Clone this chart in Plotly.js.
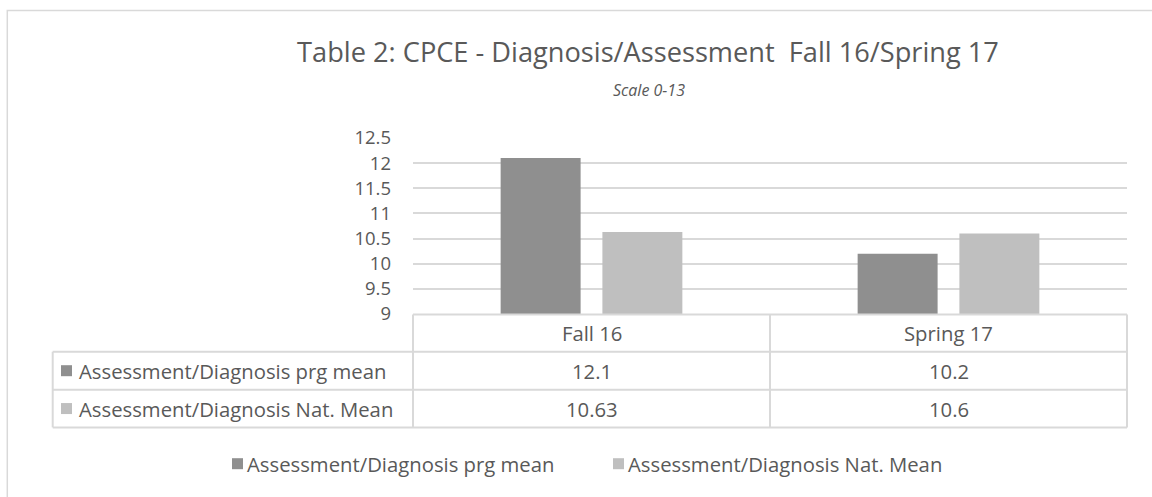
<!DOCTYPE html>
<html>
<head>
<meta charset="utf-8">
<script src="https://cdn.plot.ly/plotly-3.0.1.min.js"></script>
<style>
  html, body { margin: 0; padding: 0; background: #ffffff; }
  #chart { width: 1152px; height: 497px; }
</style>
</head>
<body>
<div id="chart"></div>
<script>
// ---- Data ----
const categories = ["Fall 16", "Spring 17"];
const seriesNames = ["Assessment/Diagnosis prg mean", "Assessment/Diagnosis Nat. Mean"];
const prgMean = [12.1, 10.2];
const natMean = [10.63, 10.6];
const tableText = [["12.1", "10.2"], ["10.63", "10.6"]];
const tickVals = [9, 9.5, 10, 10.5, 11, 11.5, 12, 12.5];
const tickText = ["9", "9.5", "10", "10.5", "11", "11.5", "12", "12.5"];
const titleText = "Table 2: CPCE - Diagnosis/Assessment&nbsp;&nbsp;Fall 16/Spring 17";
const subtitleText = "Scale 0-13";

// ---- Layout geometry (pixels) ----
const W = 1152, H = 497;
const L = 413, R = 1127, T = 138.3, B = 314.3;
const pw = R - L, ph = B - T;
const px = v => (v - L) / pw;       // pixel x -> paper x
const py = v => (B - v) / ph;       // pixel y -> paper y

const colors = ["#8f8f8f", "#bfbfbf"];
const txt = "#595959";
const gridC = "#d9d9d9";
const FONT = "Open Sans, sans-serif";
const FS = 20.3;

const traces = [
  { type: "bar", x: categories, y: prgMean, name: seriesNames[0],
    marker: { color: colors[0] }, hoverinfo: "skip" },
  { type: "bar", x: categories, y: natMean, name: seriesNames[1],
    marker: { color: colors[1] }, hoverinfo: "skip" }
];

const shapes = [];
const annotations = [];
const line = (x0, y0, x1, y1) => shapes.push({
  type: "line", xref: "paper", yref: "paper",
  x0: px(x0), y0: py(y0), x1: px(x1), y1: py(y1),
  line: { color: gridC, width: 2 }, layer: "above"
});

// outer chart border
shapes.push({ type: "rect", xref: "paper", yref: "paper",
  x0: px(7.3), y0: py(10.7), x1: px(1165), y1: py(510),
  line: { color: gridC, width: 1.5 }, layer: "below" });

// data table grid
const rowY = [314.7, 352, 390, 427.7];
const labL = 52.7, mid = 770;
line(L, rowY[0], R, rowY[0]);
line(labL, rowY[1], R, rowY[1]);
line(labL, rowY[2], R, rowY[2]);
line(labL, rowY[3], R, rowY[3]);
line(L, rowY[0], L, rowY[3]);
line(mid, rowY[0], mid, rowY[3]);
line(R, rowY[0], R, rowY[3]);
line(labL, rowY[1], labL, rowY[3]);

// header labels
categories.forEach((c) => annotations.push({
  x: c, xref: "x", y: py((rowY[0] + rowY[1]) / 2), yref: "paper",
  text: c, showarrow: false, xanchor: "center", yanchor: "middle",
  font: { family: FONT, size: FS, color: txt }
}));
// row labels + values
seriesNames.forEach((s, i) => {
  const yc = (rowY[i + 1] + rowY[i + 2]) / 2;
  shapes.push({ type: "rect", xref: "paper", yref: "paper",
    x0: px(61), x1: px(72), y0: py(yc - 5.5), y1: py(yc + 5.5),
    fillcolor: colors[i], line: { width: 0 } });
  annotations.push({ x: px(77), xref: "paper", y: py(yc), yref: "paper",
    text: s, showarrow: false, xanchor: "left", yanchor: "middle",
    font: { family: FONT, size: FS, color: txt } });
  categories.forEach((c, j) => annotations.push({
    x: c, xref: "x", y: py(yc), yref: "paper",
    text: tableText[i][j], showarrow: false, xanchor: "center", yanchor: "middle",
    font: { family: FONT, size: FS, color: txt }
  }));
});

// bottom legend
const legY = 464;
const legX = [232, 613];
seriesNames.forEach((s, i) => {
  shapes.push({ type: "rect", xref: "paper", yref: "paper",
    x0: px(legX[i]), x1: px(legX[i] + 11), y0: py(legY - 5.5), y1: py(legY + 5.5),
    fillcolor: colors[i], line: { width: 0 } });
  annotations.push({ x: px(legX[i] + 13), xref: "paper", y: py(legY), yref: "paper",
    text: s, showarrow: false, xanchor: "left", yanchor: "middle",
    font: { family: FONT, size: FS, color: txt } });
});

// subtitle
annotations.push({ x: px(649), xref: "paper", y: py(90), yref: "paper",
  text: "<i>" + subtitleText + "</i>", showarrow: false, xanchor: "center", yanchor: "middle",
  font: { family: FONT, size: 16, color: txt } });

const layout = {
  width: W, height: H,
  paper_bgcolor: "#ffffff", plot_bgcolor: "#ffffff",
  margin: { l: L, r: W - R, t: T, b: H - B, pad: 0 },
  showlegend: false,
  bargap: 0.43, bargroupgap: 0.214,
  title: { text: titleText, x: 648 / W, xref: "container", xanchor: "center",
    y: 1 - 52 / H, yref: "container", yanchor: "middle",
    font: { family: FONT, size: 27.2, color: txt } },
  xaxis: { showticklabels: false, showgrid: false, zeroline: false, showline: false,
    ticks: "", fixedrange: true },
  yaxis: { range: [9, 12.5], tickvals: tickVals, ticktext: tickText,
    showgrid: true, gridcolor: gridC, gridwidth: 2, zeroline: false, showline: false,
    ticks: "", ticklabelstandoff: 21, tickfont: { family: FONT, size: 18.5, color: txt },
    fixedrange: true },
  shapes: shapes, annotations: annotations
};

Plotly.newPlot("chart", traces, layout, { displayModeBar: false, staticPlot: true });
</script>
</body>
</html>
